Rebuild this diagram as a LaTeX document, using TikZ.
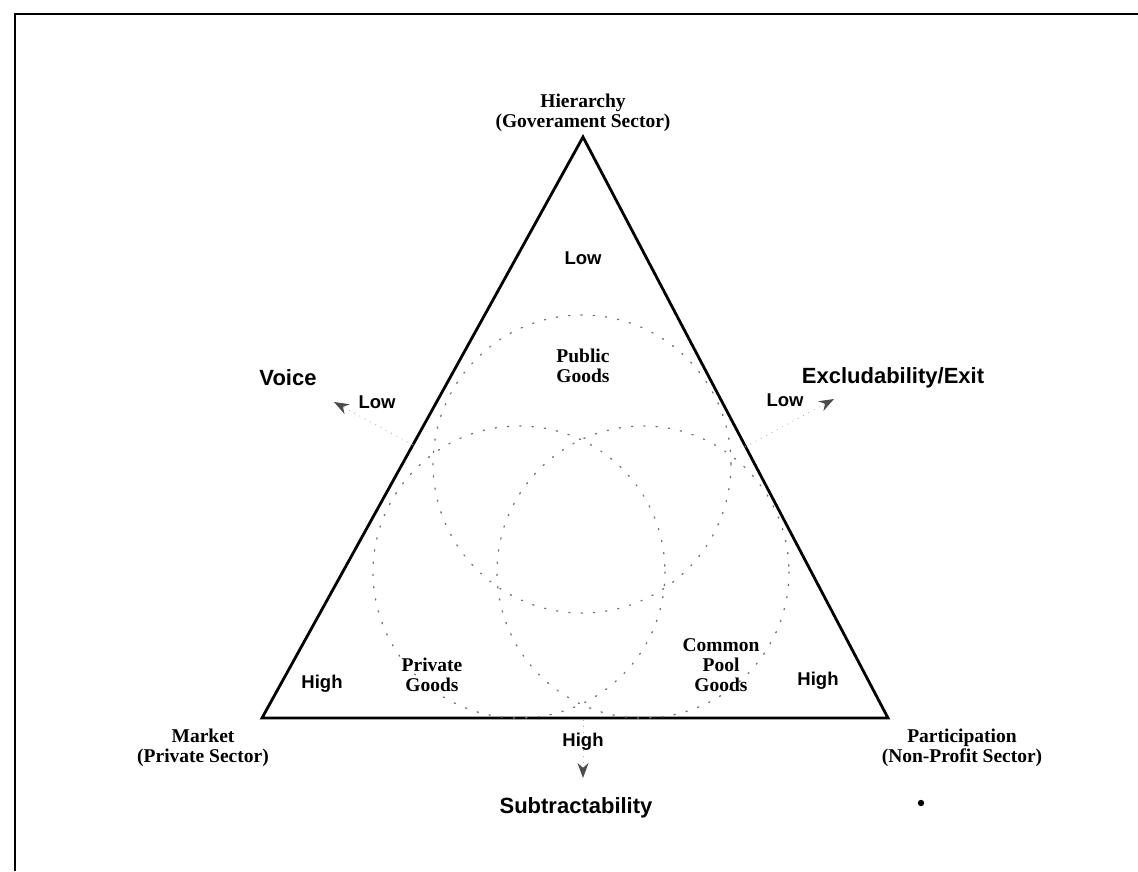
\documentclass[tikz,border=0pt]{standalone}
\usepackage{fontspec}
\setmainfont{Liberation Serif}
\setsansfont{Liberation Sans}
\usetikzlibrary{arrows.meta,positioning}

\begin{document}
\begin{tikzpicture}[x=1pt, y=-1pt,
    serif/.style={font=\fontsize{19.5}{20}\selectfont\bfseries, align=center, inner sep=0pt},
    sansbig/.style={font=\sffamily\fontsize{22}{24}\selectfont\bfseries, inner sep=0pt},
    level/.style={font=\sffamily\fontsize{18.5}{20}\selectfont\bfseries, inner sep=0pt},
    side/.style={line width=2.8pt, line join=miter},
    frame/.style={line width=1.8pt},
    goods/.style={draw=black!55, line width=1.3pt, dash pattern=on 1.3pt off 11pt, line cap=round},
    axis/.style={draw=black!30, line width=0.8pt, dash pattern=on 1pt off 5pt,
                 -{Stealth[length=15pt, width=11pt, color=black!70]}},
]
    \useasboundingbox (0,0) rectangle (1138,871);

    % outer frame, cut off at the right and bottom
    \draw[frame] (15,871) -- (15,14) -- (1138,14);

    % corners of the triangle
    \coordinate (hier) at (583,137);
    \coordinate (mkt) at (262,718);
    \coordinate (part) at (888,718);
    \draw[side] (hier) -- (mkt) -- (part) -- cycle;

    % the three kinds of goods
    \draw[goods] (582,464) circle[radius=149];
    \draw[goods] (519,572) circle[radius=146];
    \draw[goods] (643,572) circle[radius=146];

    % axes leaving the sides
    \coordinate (voiceFrom) at (413,445);
    \coordinate (voiceTo) at (334,402);
    \coordinate (exitFrom) at (745,447);
    \coordinate (exitTo) at (834,399);
    \coordinate (subFrom) at (583,720);
    \coordinate (subTo) at (583,778);
    \draw[axis] (voiceFrom) -- (voiceTo);
    \draw[axis] (exitFrom) -- (exitTo);
    \draw[axis] (subFrom) -- (subTo);

    % sectors
    \node[serif] (hierLbl) at (583,113) {Hierarchy\\(Goverament Sector)};
    \node[serif] (mktLbl) at (203,748) {Market\\(Private Sector)};
    \node[serif] (partLbl) at (962,748) {Participation\\(Non-Profit Sector)};

    % goods
    \node[serif] (pubLbl) at (583,366) {Public\\Goods};
    \node[serif] (privLbl) at (432,675) {Private\\Goods};
    \node[serif] (poolLbl) at (721,665) {Common\\Pool\\Goods};

    % axis names
    \node[sansbig] (voiceLbl) at (288,378) {Voice};
    \node[sansbig] (exitLbl) at (893,378) {Excludability/Exit};
    \node[sansbig] (subLbl) at (576,808) {Subtractability};

    % low and high ends
    \node[level] (lowTop) at (583,258) {Low};
    \node[level] (lowVoice) at (377,402) {Low};
    \node[level] (lowExit) at (785,400) {Low};
    \node[level] (highMkt) at (322,684) {High};
    \node[level] (highPart) at (818,681) {High};
    \node[level] (highSub) at (583,742) {High};

    \fill (921,803) circle[radius=3.2];
\end{tikzpicture}
\end{document}
